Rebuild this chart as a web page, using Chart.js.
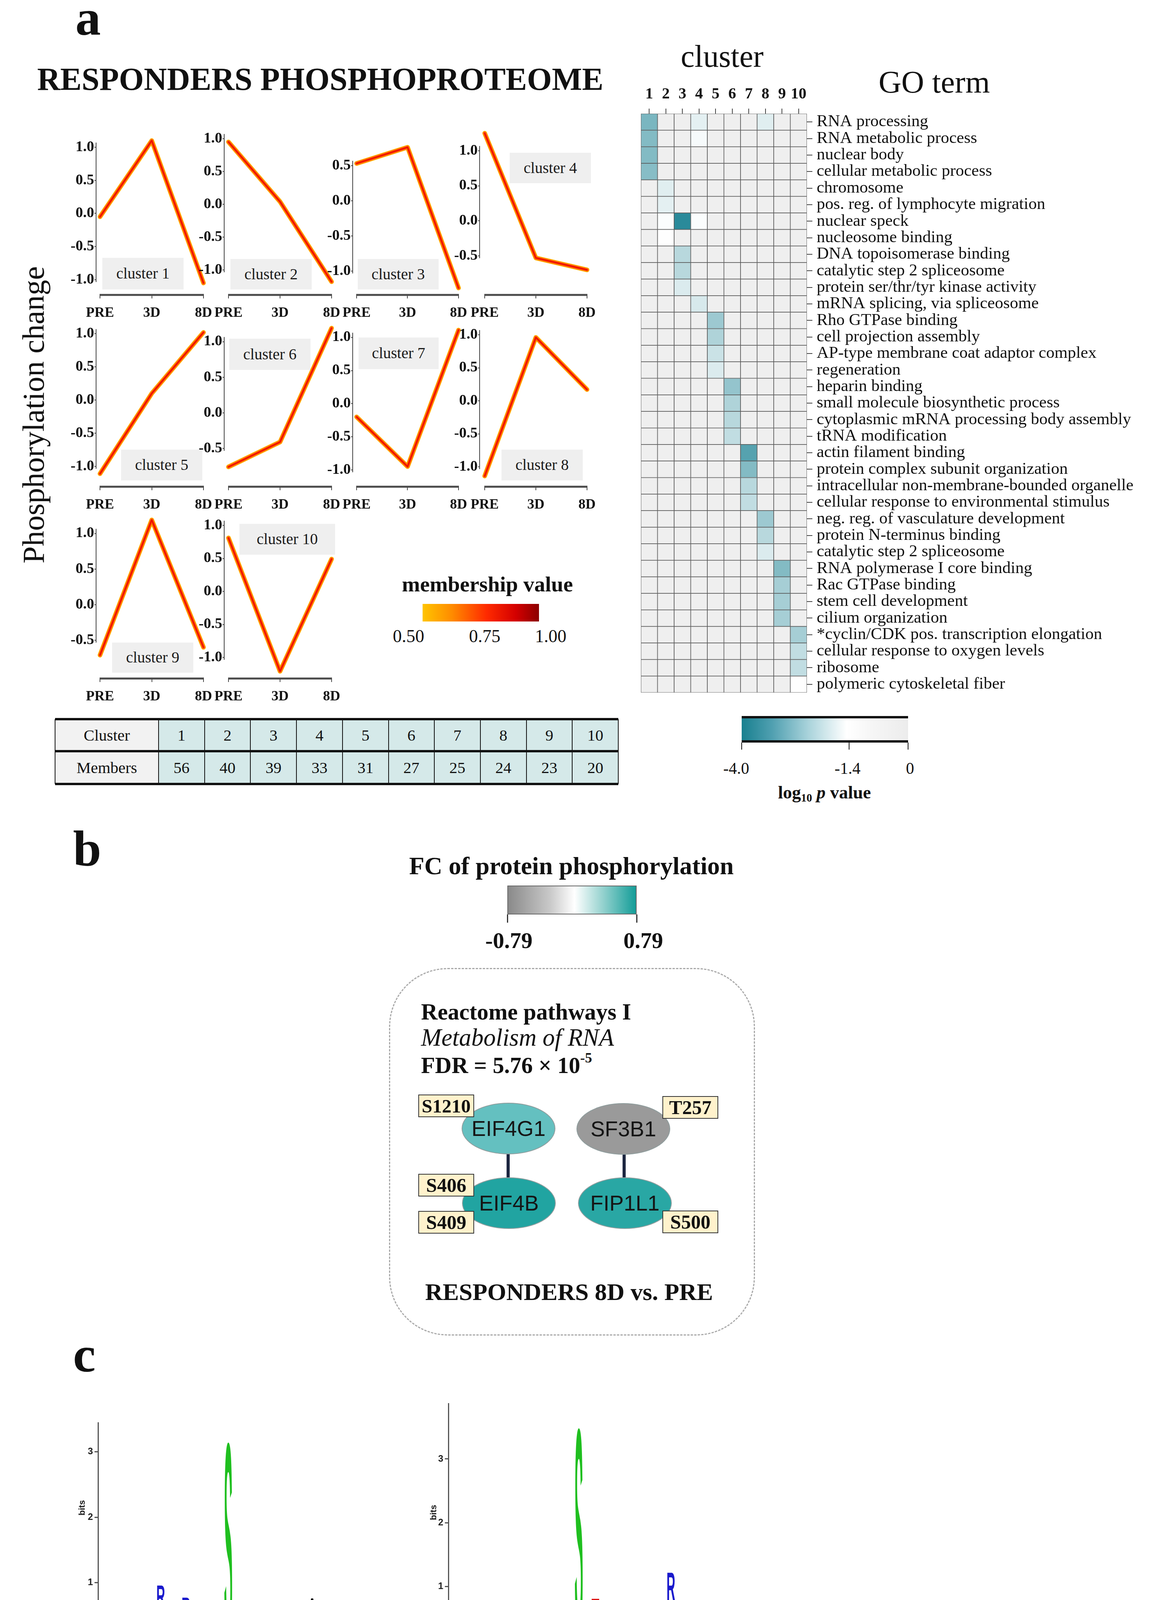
<!DOCTYPE html>
<html><head><meta charset="utf-8">
<script src="https://cdn.jsdelivr.net/npm/chart.js@4.4.1/dist/chart.umd.min.js"></script>
<style>
html,body{margin:0;padding:0;background:#fff;}
#root{position:relative;width:2947px;height:4521px;overflow:hidden;background:#fff;color:#111;font-family:"Liberation Serif",serif;}
.t{position:absolute;white-space:nowrap;}
canvas.ch{position:absolute;}
.box{position:absolute;}
</style></head><body><div id="root"></div>
<script>
// ================= DATA =================
const timepoints = ['PRE', '3D', '8D'];
const profile1 = [-0.05, 1.10, -1.05];
const profile2 = [0.95, 0.04, -1.18];
const profile3 = [0.53, 0.76, -1.24];
const profile4 = [1.25, -0.53, -0.70];
const profile5 = [-1.11, 0.10, 1.02];
const profile6 = [-0.76, -0.41, 1.19];
const profile7 = [-0.20, -0.95, 1.11];
const profile8 = [-1.14, 0.96, 0.17];
const profile9 = [-0.71, 1.19, -0.60];
const profile10 = [0.81, -1.21, 0.49];
const ticksFull = [-1, -0.5, 0, 0.5, 1];
const ticksLow = [-1, -0.5, 0, 0.5];
const ticksHigh = [-0.5, 0, 0.5, 1];
const clusterIds = [1, 2, 3, 4, 5, 6, 7, 8, 9, 10];
const clusterMembers = [56, 40, 39, 33, 31, 27, 25, 24, 23, 20];
const membershipTicks = ['0.50', '0.75', '1.00'];

const goTerms = ['RNA processing','RNA metabolic process','nuclear body','cellular metabolic process','chromosome',
 'pos. reg. of lymphocyte migration','nuclear speck','nucleosome binding','DNA topoisomerase binding','catalytic step 2 spliceosome',
 'protein ser/thr/tyr kinase activity','mRNA splicing, via spliceosome','Rho GTPase binding','cell projection assembly',
 'AP-type membrane coat adaptor complex','regeneration','heparin binding','small molecule biosynthetic process',
 'cytoplasmic mRNA processing body assembly','tRNA modification','actin filament binding','protein complex subunit organization',
 'intracellular non-membrane-bounded organelle','cellular response to environmental stimulus','neg. reg. of vasculature development',
 'protein N-terminus binding','catalytic step 2 spliceosome','RNA polymerase I core binding','Rac GTPase binding','stem cell development',
 'cilium organization','*cyclin/CDK pos. transcription elongation','cellular response to oxygen levels','ribosome','polymeric cytoskeletal fiber'];
// [GO term row, cluster, log10 p]; every other cell is 0
const heatCells = [[0,1,-2.9],[0,4,-1.7],[0,8,-1.75],[1,1,-2.8],[1,4,-1.5],[2,1,-2.8],[3,1,-2.75],[4,2,-1.75],[5,2,-1.7],
 [6,2,-1.45],[6,3,-3.8],[6,4,-1.45],[7,2,-1.35],[8,3,-2.2],[9,3,-2.2],[10,3,-1.8],[11,4,-1.85],[12,5,-2.5],[13,5,-2.3],
 [14,5,-2.0],[15,5,-1.8],[16,6,-2.6],[17,6,-2.3],[18,6,-2.2],[19,6,-2.1],[20,7,-3.3],[21,7,-2.8],[22,7,-2.2],[23,7,-2.1],
 [24,8,-2.5],[25,8,-2.2],[26,8,-1.8],[27,9,-2.8],[28,9,-2.4],[29,9,-2.4],[30,9,-2.4],[31,10,-2.4],[32,10,-2.1],[33,10,-2.1],[34,10,-1.35]];
const pvalTicks = ['-4.0', '-1.4', '0'];
const fcTicks = ['-0.79', '0.79'];

const logoPositions = Array.from({length: 31}, (_, i) => String(i + 1));
const logoBitsTicks = [0, 1, 2, 3];
// letters bottom -> top, [residue, bits]
const logo3D = [
 [['Q',0.03],['A',0.03],['G',0.03],['E',0.04]],
 [['A',0.05],['Q',0.04],['L',0.04],['K',0.04],['E',0.09],['S',0.14],['R',0.14]],
 [['L',0.05],['I',0.05],['S',0.12],['R',0.125],['D',0.125],['Q',0.24]],
 [],
 [['A',0.02],['N',0.02],['K',0.03],['R',0.03],['T',0.03]],
 [['K',0.03],['N',0.03]],
 [['V',0.05],['K',0.05],['G',0.05],['D',0.04],['R',0.09],['A',0.10],['S',0.19]],
 [['K',0.08],['S',0.17],['E',0.17],['P',0.21],['R',0.33]],
 [['T',0.05],['S',0.06],['R',0.05],['C',0.05],['Q',0.06],['G',0.08]],
 [['T',0.05],['N',0.05],['E',0.03],['K',0.05],['A',0.06],['L',0.07]],
 [['T',0.05],['E',0.07],['S',0.12],['K',0.13],['D',0.15],['R',0.25]],
 [['N',0.025],['Q',0.025]],
 [['G',0.05],['I',0.05],['R',0.08],['L',0.07],['A',0.10],['S',0.12]],
 [['C',0.04],['N',0.04],['Q',0.04],['K',0.07],['E',0.04],['R',0.09]],
 [['R',0.06],['N',0.05],['C',0.09],['Y',0.09],['G',0.10],['K',0.19]],
 [['S',3.15]],
 [['Y',0.04],['C',0.05],['K',0.04],['D',0.04],['E',0.04],['Q',0.06],['P',0.12]],
 [['T',0.04],['R',0.05],['L',0.05],['E',0.04],['S',0.09],['P',0.13],['G',0.12]],
 [],
 [['A',0.03],['Q',0.03],['S',0.03],['G',0.03],['E',0.03]],
 [],
 [['K',0.05],['G',0.05],['L',0.04],['D',0.04],['E',0.09],['S',0.13],['A',0.13]],
 [['V',0.05],['K',0.05],['C',0.05],['G',0.04],['E',0.04],['R',0.09]],
 [['S',0.04],['L',0.05],['D',0.05],['T',0.05],['Q',0.04],['E',0.09]],
 [['S',0.03],['Q',0.03],['K',0.04],['R',0.05]],
 [['L',0.06],['R',0.07],['H',0.07],['S',0.18],['E',0.18],['A',0.20]],
 [['D',0.03],['E',0.03]],
 [],
 [['V',0.05],['L',0.08],['K',0.04],['Q',0.09],['S',0.13],['E',0.14]],
 [['A',0.03],['C',0.03],['N',0.03],['R',0.03],['G',0.03]],
 [['I',0.05],['S',0.05],['G',0.04],['F',0.05],['E',0.05],['V',0.07]]
];
const logo8D = [
 [],
 [['V',0.03],['K',0.04],['E',0.04],['D',0.05],['S',0.06]],
 [['G',0.04],['S',0.04],['E',0.05]],
 [['I',0.04],['K',0.03],['T',0.04],['E',0.05],['D',0.05],['S',0.08],['A',0.09],['R',0.16],['P',0.14]],
 [['N',0.04],['C',0.05],['L',0.04],['Q',0.06],['K',0.06],['A',0.06],['S',0.08],['R',0.09]],
 [['G',0.04],['C',0.04],['L',0.04],['R',0.04],['E',0.05],['D',0.06],['S',0.05]],
 [['C',0.03],['T',0.04],['L',0.05],['G',0.04],['E',0.05],['R',0.06],['Q',0.07],['P',0.09],['A',0.11]],
 [['D',0.02],['N',0.05],['C',0.07],['Q',0.05],['E',0.06],['S',0.12],['R',0.14],['P',0.10]],
 [['K',0.04],['V',0.07],['P',0.06],['S',0.09],['G',0.09],['E',0.09],['A',0.09],['R',0.20]],
 [['T',0.04],['K',0.04],['S',0.05],['E',0.05],['P',0.08]],
 [['G',0.04],['N',0.04],['E',0.04],['K',0.05],['H',0.05],['P',0.06],['L',0.06],['A',0.07],['R',0.14]],
 [['L',0.04],['C',0.04],['K',0.03],['P',0.04],['G',0.05],['F',0.05],['E',0.07],['S',0.11],['R',0.13]],
 [['V',0.05],['T',0.05],['G',0.06],['S',0.05],['L',0.05],['E',0.05],['A',0.06],['K',0.08],['R',0.23]],
 [['N',0.04],['G',0.04],['C',0.07],['H',0.04],['K',0.08],['T',0.09],['P',0.09],['S',0.11]],
 [['Q',0.03],['C',0.04],['K',0.04],['L',0.05],['E',0.05],['P',0.05],['A',0.06],['R',0.12]],
 [['T',0.15],['S',3.34]],
 [['Y',0.04],['K',0.07],['N',0.03],['L',0.05],['D',0.05],['W',0.07],['E',0.04],['P',0.14]],
 [['C',0.09],['R',0.07],['T',0.10],['G',0.10],['D',0.10],['S',0.13],['E',0.21]],
 [['A',0.03],['N',0.04],['C',0.08],['R',0.09],['G',0.08],['E',0.13],['D',0.11],['S',0.13]],
 [['A',0.04],['N',0.03],['G',0.04],['E',0.04],['V',0.06]],
 [['C',0.07],['D',0.03],['S',0.05],['G',0.07],['Y',0.06],['K',0.05],['E',0.11]],
 [['C',0.05],['H',0.06],['R',0.07],['T',0.06],['G',0.06],['P',0.07],['E',0.09]],
 [['C',0.04],['E',0.03],['A',0.04],['K',0.03],['G',0.04]],
 [['V',0.04],['L',0.04],['H',0.04],['S',0.04],['E',0.04],['R',0.06]],
 [['V',0.04],['C',0.05],['K',0.07],['E',0.04],['G',0.09],['S',0.12],['R',0.11],['P',0.13]],
 [['C',0.06],['T',0.04],['K',0.04],['G',0.04],['R',0.04],['E',0.05],['D',0.06]],
 [['G',0.07],['L',0.15],['P',0.17],['E',0.19],['A',0.19],['R',0.44]],
 [['C',0.06],['Q',0.03],['E',0.05],['G',0.05],['S',0.05]],
 [['N',0.04],['C',0.06],['H',0.06],['S',0.04],['G',0.04],['P',0.07],['R',0.08]],
 [['L',0.04],['C',0.07],['G',0.04],['R',0.05],['Q',0.04],['E',0.05],['D',0.03]],
 [['I',0.03],['N',0.03],['L',0.04],['H',0.06],['E',0.04],['V',0.07],['S',0.05],['R',0.08],['G',0.08]]
];

// ================= LAYOUT / STYLE =================
const SERIF = '"Liberation Serif", serif', SANS = '"Liberation Sans", sans-serif';
Chart.defaults.font.family = SERIF;
Chart.defaults.color = '#111';
const root = document.getElementById('root');
const mctx = document.createElement('canvas').getContext('2d');
function fstr(style, weight, size, fam){ return style + ' ' + weight + ' ' + size + 'px ' + fam; }
function measure(s, font){ mctx.font = font; return mctx.measureText(s).width; }

function addText(html, o){
  const fam = o.fam || SERIF, style = o.style || 'normal', weight = o.weight || 'normal';
  let size = o.size || 40;
  if (o.fit) size = 100 * o.fit / measure(o.plain || html, fstr(style, weight, 100, fam));
  const d = document.createElement('div');
  d.className = 't';
  d.innerHTML = html;
  d.style.font = fstr(style, weight, size, fam);
  d.style.lineHeight = '1';
  if (o.color) d.style.color = o.color;
  const asc = fam === SANS ? 0.8465 : 0.8375;
  if (o.rotate){
    d.style.left = o.x + 'px'; d.style.top = o.y + 'px';
    d.style.transform = 'translate(-50%,-50%) rotate(-90deg)';
  } else {
    d.style.top = (o.y - asc * size) + 'px';
    d.style.left = o.x + 'px';
    if (o.align === 'c') d.style.transform = 'translateX(-50%)';
  }
  if (o.z) d.style.zIndex = o.z;
  root.appendChild(d);
  return size;
}
function addBox(x, y, w, h, css){
  const d = document.createElement('div'); d.className = 'box';
  d.style.left = x + 'px'; d.style.top = y + 'px'; d.style.width = w + 'px'; d.style.height = h + 'px';
  Object.assign(d.style, css || {});
  root.appendChild(d); return d;
}
function addCanvas(x, y, w, h){
  const c = document.createElement('canvas'); c.className = 'ch';
  c.width = Math.round(w); c.height = Math.round(h);
  c.style.left = x + 'px'; c.style.top = y + 'px';
  c.style.width = Math.round(w) + 'px'; c.style.height = Math.round(h) + 'px';
  root.appendChild(c); return c;
}

// ---------- panel labels & titles ----------
addText('a', {x: 193, y: 89, size: 130, weight: 'bold'});
addText('b', {x: 187, y: 2216, size: 130, weight: 'bold'});
addText('c', {x: 187, y: 3511, size: 130, weight: 'bold'});
addText('RESPONDERS PHOSPHOPROTEOME', {x: 820, y: 231, align: 'c', fit: 1450, weight: 'bold'});
addText('Phosphorylation change', {x: 86, y: 1062, rotate: true, fit: 761});

// ---------- cluster profile charts ----------
const profiles = [profile1, profile2, profile3, profile4, profile5, profile6, profile7, profile8, profile9, profile10];
const profileTicks = [ticksFull, ticksFull, ticksLow, ticksHigh, ticksFull, ticksHigh, ticksFull, ticksFull, ticksHigh, ticksFull];
const profileLayout = [
  {axX: 246, yZero: 546.5, unit: 169.5, x0: 256, x1: 521, xAxisY: 755, box: [262, 660, 208, 81]},
  {axX: 574, yZero: 523, unit: 168, x0: 585, x1: 849, xAxisY: 755, box: [590, 663, 208, 78]},
  {axX: 903, yZero: 514, unit: 180, x0: 913, x1: 1174, xAxisY: 755, box: [916, 663, 207, 78]},
  {axX: 1228, yZero: 565.3, unit: 179.3, x0: 1241, x1: 1503, xAxisY: 755, box: [1305, 391, 208, 78]},
  {axX: 246, yZero: 1024, unit: 170, x0: 256, x1: 521, xAxisY: 1246, box: [310, 1151, 208, 79]},
  {axX: 574, yZero: 1057, unit: 182, x0: 585, x1: 849, xAxisY: 1246, box: [587, 867, 208, 80]},
  {axX: 903, yZero: 1033.5, unit: 169.5, x0: 913, x1: 1174, xAxisY: 1246, box: [918, 864, 205, 81]},
  {axX: 1228, yZero: 1026, unit: 169, x0: 1241, x1: 1503, xAxisY: 1246, box: [1284, 1151, 208, 79]},
  {axX: 246, yZero: 1548, unit: 182, x0: 256, x1: 521, xAxisY: 1737, box: [287, 1645, 208, 77]},
  {axX: 574, yZero: 1514, unit: 169, x0: 585, x1: 849, xAxisY: 1737, box: [613, 1341, 245, 79]}
];
const profileAxes = {
  id: 'profileAxes',
  afterDraw(chart){
    const {ctx, chartArea, scales: {x, y}} = chart;
    ctx.save();
    ctx.strokeStyle = '#4a4a4a'; ctx.lineWidth = 5;
    ctx.beginPath(); ctx.moveTo(x.getPixelForValue(0) - 1, chartArea.bottom); ctx.lineTo(x.getPixelForValue(2) + 1, chartArea.bottom); ctx.stroke();
    const t = y.ticks;
    ctx.strokeStyle = '#444'; ctx.lineWidth = 2;
    ctx.beginPath(); ctx.moveTo(chartArea.left, y.getPixelForValue(t[t.length - 1].value) - 12); ctx.lineTo(chartArea.left, y.getPixelForValue(t[0].value) + 6); ctx.stroke();
    ctx.restore();
  }
};
function makeProfile(i){
  const L = profileLayout[i], vals = profiles[i], ticks = profileTicks[i];
  const b = L.box;
  addBox(b[0], b[1], b[2], b[3], {background: '#efefef'});
  addText('cluster ' + clusterIds[i], {x: b[0] + b[2] / 2, y: b[1] + b[3] / 2 + 13, align: 'c', size: 40, color: '#1a1a1a'});
  const step = (L.x1 - L.x0) / 2, YW = 84, XH = 80, PT = 24, PR = 14, PAD = 34;
  const maxV = Math.max(Math.max(...vals), ticks[ticks.length - 1]);
  const top = L.yZero - maxV * L.unit - 22;
  const cl = L.axX - YW, ct = top - PT;
  const cw = (L.x1 + PR + PAD) - cl, chh = L.xAxisY + XH - ct;
  const cv = addCanvas(cl, ct, cw, chh);
  cv.style.zIndex = 2;
  const ds = (w, c) => ({data: vals.map((v, k) => ({x: k, y: v})), borderColor: c, borderWidth: w, pointRadius: 0,
    fill: false, tension: 0, clip: false, borderJoinStyle: 'round', borderCapStyle: 'round'});
  // first dataset is drawn on top: red core, orange middle, yellow fringe
  new Chart(cv, {
    type: 'line',
    data: {datasets: [ds(3.5, '#ee1000'), ds(8, '#ff5a00'), ds(12, '#ffb000')]},
    options: {
      responsive: false, animation: false, devicePixelRatio: 1,
      layout: {padding: {left: 0, top: PT, right: PAD, bottom: 0}},
      plugins: {legend: {display: false}, tooltip: {enabled: false}},
      scales: {
        x: {type: 'linear', min: -(L.x0 - L.axX) / step, max: 2 + PR / step,
          afterBuildTicks: s => { s.ticks = [0, 1, 2].map(v => ({value: v})); },
          afterFit: s => { s.height = XH; },
          ticks: {callback: v => timepoints[v], font: {size: 36, weight: 'bold'}, color: '#111', padding: 16, maxRotation: 0, autoSkip: false},
          grid: {display: true, drawOnChartArea: false, drawTicks: true, tickLength: 9, color: '#4a4a4a', lineWidth: 2},
          border: {display: false}},
        y: {type: 'linear', min: (L.yZero - L.xAxisY) / L.unit, max: (L.yZero - top) / L.unit,
          afterBuildTicks: s => { s.ticks = ticks.map(v => ({value: v})); },
          afterFit: s => { s.width = YW; },
          ticks: {callback: v => Number(v).toFixed(1), font: {size: 38, weight: 'bold'}, color: '#111', padding: 1},
          grid: {display: true, drawOnChartArea: false, tickLength: 4, color: '#444', lineWidth: 2},
          border: {display: false}}
      }
    },
    plugins: [profileAxes]
  });
}
for (let i = 0; i < 10; i++) makeProfile(i);

// membership legend
addText('membership value', {x: 1248, y: 1515, align: 'c', fit: 438, weight: 'bold'});
addBox(1082, 1546, 298, 45, {background: 'linear-gradient(to right,#ffc400 0%,#ff8c00 25%,#ff2a00 55%,#d40000 80%,#8b0000 100%)'});
[1046, 1241, 1410].forEach((x, k) => addText(membershipTicks[k], {x: x, y: 1645, align: 'c', size: 46}));

// ---------- table ----------
(function(){
  const left = 141, top = 1841, rowH = [82, 84], firstW = 265, cellW = 117.7;
  const rowsText = [['Cluster'].concat(clusterIds.map(String)), ['Members'].concat(clusterMembers.map(String))];
  let y = top;
  for (let r = 0; r < 2; r++){
    for (let c = 0; c <= 10; c++){
      const x = c === 0 ? left : left + firstW + (c - 1) * cellW;
      const w = c === 0 ? firstW : cellW;
      addBox(x, y, w, rowH[r], {background: c === 0 ? '#f2f2f2' : '#d5e9e9'});
      addText(rowsText[r][c], {x: x + w / 2, y: y + rowH[r] / 2 + 14, align: 'c', size: 41});
    }
    y += rowH[r];
  }
  [top, top + rowH[0], top + rowH[0] + rowH[1]].forEach(yy => addBox(left, yy - 3, firstW + 10 * cellW, 6, {background: '#111'}));
  for (let c = 0; c <= 11; c++){
    const x = c === 0 ? left : left + firstW + (c - 1) * cellW;
    addBox(x - 1, top, 2, rowH[0] + rowH[1], {background: '#111'});
  }
})();

// ---------- GO heatmap ----------
function cellColor(v){
  const teal = [24, 128, 146], white = [255, 255, 255], gray = [239, 239, 239];
  let a, b2, f;
  if (v >= -1.4){ a = white; b2 = gray; f = (v + 1.4) / 1.4; }
  else { a = white; b2 = teal; f = Math.min(1, (-1.4 - v) / 2.6); }
  const c = a.map((q, k) => Math.round(q + (b2[k] - q) * f));
  return 'rgb(' + c.join(',') + ')';
}
(function(){
  const logP = goTerms.map(() => clusterIds.map(() => 0));
  heatCells.forEach(([r, c, v]) => { logP[r][c - 1] = v; });
  const cl = 1500, ct = 180, cw = 1447, chh = 1640;
  const areaL = 1641, areaT = 291, areaR = 2066, areaB = 1773;
  const cv = addCanvas(cl, ct, cw, chh);
  const datasets = clusterIds.map((c, ci) => ({
    data: goTerms.map(() => [c - 0.5, c + 0.5]),
    backgroundColor: goTerms.map((_, r) => cellColor(logP[r][ci])),
    borderColor: '#5a5a5a', borderWidth: 1.2, borderSkipped: false,
    barPercentage: 1, categoryPercentage: 1, grouped: false
  }));
  new Chart(cv, {
    type: 'bar',
    data: {labels: goTerms, datasets},
    options: {
      indexAxis: 'y', responsive: false, animation: false, devicePixelRatio: 1,
      layout: {padding: {left: areaL - cl, top: 0, right: 0, bottom: (ct + chh) - areaB}},
      plugins: {legend: {display: false}, tooltip: {enabled: false}},
      scales: {
        x: {type: 'linear', position: 'top', min: 0.5, max: 10.5,
          afterBuildTicks: s => { s.ticks = clusterIds.map(v => ({value: v})); },
          afterFit: s => { s.height = areaT - ct; },
          ticks: {callback: v => String(v), font: {size: 40, weight: 'bold'}, color: '#111', padding: 12, maxRotation: 0, autoSkip: false},
          grid: {display: true, drawOnChartArea: false, tickLength: 13, color: '#444', lineWidth: 2},
          border: {display: false}},
        y: {type: 'category', position: 'right', offset: true,
          afterFit: s => { s.width = (cl + cw) - areaR; },
          ticks: {font: {size: 43}, color: '#111', padding: 11, autoSkip: false},
          grid: {display: true, offset: false, drawOnChartArea: false, tickLength: 14, color: '#444', lineWidth: 2},
          border: {display: false}}
      }
    }
  });
})();
addText('cluster', {x: 1849, y: 172, align: 'c', fit: 212});
addText('GO term', {x: 2392, y: 238, align: 'c', fit: 285});
// p-value colour bar
addBox(1899, 1833, 426, 68, {background: 'linear-gradient(to right,#18808f 0%,#4f9fb0 18%,#a9d3db 40%,#ffffff 63%,#f6f6f6 78%,#ececec 100%)',
  borderTop: '6px solid #111', borderBottom: '6px solid #111', boxSizing: 'border-box'});
[1899, 2174, 2325].forEach((x, k) => {
  addBox(x - 1, 1901, 2, 18, {background: '#111'});
  addText(pvalTicks[k], {x: [1885, 2170, 2330][k], y: 1981, align: 'c', size: 42});
});
addText('log<span style="font-size:0.62em;position:relative;top:0.28em">10</span> <i>p</i> value', {x: 2111, y: 2045, align: 'c', size: 46, weight: 'bold'});

// ---------- panel b ----------
addText('FC of protein phosphorylation', {x: 1463, y: 2238, align: 'c', fit: 831, weight: 'bold'});
addBox(1299, 2267, 331, 74, {background: 'linear-gradient(to right,#8a8a8a 0%,#c9c9c9 33%,#ffffff 52%,#9fd6d3 72%,#139d98 100%)',
  border: '2px solid #666', boxSizing: 'border-box'});
addBox(1298, 2341, 2.5, 21, {background: '#333'});
addBox(1629, 2341, 2.5, 21, {background: '#333'});
addText(fcTicks[0], {x: 1303, y: 2428, align: 'c', size: 58, weight: 'bold'});
addText(fcTicks[1], {x: 1647, y: 2428, align: 'c', size: 58, weight: 'bold'});
addBox(996, 2478, 937, 941, {border: '3.5px dashed #a9a9a9', borderRadius: '150px', boxSizing: 'border-box'});
const rs = addText('Reactome pathways I', {x: 1078, y: 2611, fit: 538, weight: 'bold'});
addText('Metabolism of RNA', {x: 1078, y: 2677, fit: 494, style: 'italic'});
addText('FDR = 5.76 × 10<span style="font-size:0.62em;position:relative;top:-0.75em">-5</span>', {x: 1078, y: 2748, size: rs, weight: 'bold'});
// network
addBox(1301 - 4, 2950, 8, 70, {background: '#1c2640'});
addBox(1598 - 4, 2950, 8, 70, {background: '#1c2640'});
const nodes = [['EIF4G1', 1302, 2889, '#64c0c0'], ['SF3B1', 1596, 2890, '#9a9a9a'], ['EIF4B', 1303, 3080, '#21a4a1'], ['FIP1L1', 1600, 3080, '#29a7a4']];
nodes.forEach(([name, cx, cy, col]) => {
  addBox(cx - 120, cy - 66, 240, 132, {background: col, borderRadius: '50%', border: '2px solid #8f9d9d', boxSizing: 'border-box'});
  addText(name, {x: cx, y: cy + 20, align: 'c', size: 55, fam: SANS, color: '#151515'});
});
const sites = [['S1210', 1071, 2802], ['T257', 1696, 2806], ['S406', 1071, 3005], ['S409', 1071, 3100], ['S500', 1696, 3099]];
sites.forEach(([s, x, y]) => {
  const bx = addBox(x, y, 143, 58, {background: '#fff2cc', border: '2.5px solid #333', boxSizing: 'border-box'});
  bx.style.zIndex = 3;
  addText(s, {x: x + 71.5, y: y + 46, align: 'c', size: s.length > 4 ? 49 : 50, weight: 'bold', z: 4});
});
addText('RESPONDERS 8D vs. PRE', {x: 1457, y: 3328, align: 'c', fit: 737, weight: 'bold'});

// ---------- panel c: sequence logos ----------
const AA_COLOR = {G:'#1fbf1f',S:'#1fbf1f',T:'#1fbf1f',Y:'#1fbf1f',C:'#1fbf1f',Q:'#cc00cc',N:'#cc00cc',
  K:'#1a1acc',R:'#1a1acc',H:'#1a1acc',D:'#dd1111',E:'#dd1111'};
const logoLetters = {
  id: 'logoLetters',
  afterDatasetsDraw(chart){
    const ctx = chart.ctx;
    ctx.save();
    chart.data.datasets.forEach((ds, k) => {
      const meta = chart.getDatasetMeta(k);
      meta.data.forEach((el, i) => {
        const letter = ds.letters[i];
        if (!letter) return;
        const p = el.getProps(['x', 'y', 'base', 'width'], true);
        const h = Math.abs(p.base - p.y);
        if (h < 0.5) return;
        ctx.font = 'bold 100px ' + SANS;
        const m = ctx.measureText(letter);
        const gw = m.actualBoundingBoxLeft + m.actualBoundingBoxRight;
        const gh = m.actualBoundingBoxAscent + m.actualBoundingBoxDescent;
        ctx.save();
        ctx.globalAlpha = ds.data[i] < 0.045 ? 0.6 : 1;
        ctx.translate(p.x - p.width / 2, Math.max(p.base, p.y));
        ctx.scale(p.width / gw, h / gh);
        ctx.fillStyle = AA_COLOR[letter] || '#000';
        ctx.fillText(letter, m.actualBoundingBoxLeft, -m.actualBoundingBoxDescent);
        ctx.restore();
      });
    });
    ctx.restore();
  }
};
function makeLogo(stacks, L){
  const cv = addCanvas(L.cl, L.ct, L.cw, L.chh);
  const n = Math.max(...stacks.map(s => s.length));
  const datasets = [];
  for (let k = 0; k < n; k++){
    datasets.push({data: stacks.map(s => s[k] ? s[k][1] : 0), letters: stacks.map(s => s[k] ? s[k][0] : null),
      backgroundColor: 'rgba(0,0,0,0)', borderWidth: 0, barPercentage: 0.94, categoryPercentage: 1});
  }
  new Chart(cv, {
    type: 'bar',
    data: {labels: logoPositions, datasets},
    options: {
      responsive: false, animation: false, devicePixelRatio: 1,
      layout: {padding: {left: 0, top: L.areaT - L.ct, right: (L.cl + L.cw) - L.areaR, bottom: 0}},
      plugins: {legend: {display: false}, tooltip: {enabled: false}},
      scales: {
        x: {stacked: true, grid: {display: false}, border: {display: false},
          afterFit: s => { s.height = (L.ct + L.chh) - L.areaB; },
          ticks: {font: {family: SANS, size: 18, weight: 'bold'}, color: '#222', minRotation: 90, maxRotation: 90, padding: 3, autoSkip: false}},
        y: {stacked: true, min: 0, max: L.ymax,
          afterBuildTicks: s => { s.ticks = logoBitsTicks.map(v => ({value: v})); },
          afterFit: s => { s.width = L.areaL - L.cl; },
          ticks: {font: {family: SANS, size: 24, weight: 'bold'}, color: '#222', padding: 4, callback: v => String(v)},
          grid: {display: true, drawOnChartArea: false, tickLength: 9, color: '#555', lineWidth: 3},
          border: {display: true, color: '#555', width: 3}}
      }
    },
    plugins: [logoLetters]
  });
}
makeLogo(logo3D, {cl: 150, ct: 3620, cw: 800, chh: 680, areaL: 251, areaR: 917.5, areaT: 3642, areaB: 4219, ymax: (4219 - 3642) / 167.4});
makeLogo(logo8D, {cl: 1050, ct: 3570, cw: 800, chh: 730, areaL: 1148, areaR: 1815.5, areaT: 3593, areaB: 4224, ymax: (4224 - 3593) / 163});
addText('bits', {x: 210, y: 3860, rotate: true, size: 22, weight: 'bold', fam: SANS});
addText('bits', {x: 1110, y: 3872, rotate: true, size: 22, weight: 'bold', fam: SANS});
addText('N', {x: 232, y: 4256, align: 'c', size: 24, weight: 'bold', fam: SANS});
addText('C', {x: 929, y: 4256, align: 'c', size: 24, weight: 'bold', fam: SANS});
addText('N', {x: 1132, y: 4258, align: 'c', size: 24, weight: 'bold', fam: SANS});
addText('C', {x: 1826, y: 4258, align: 'c', size: 24, weight: 'bold', fam: SANS});
const capL = addText('RESPONDERS 3D vs. PRE', {x: 567, y: 4349, align: 'c', fit: 676, weight: 'bold'});
addText('(lower phosphorylation FC', {x: 568, y: 4414, align: 'c', size: capL, weight: 'bold'});
addText('at 3D)', {x: 574, y: 4476, align: 'c', size: capL, weight: 'bold'});
const capR = addText('RESPONDERS 8D vs. PRE', {x: 1486, y: 4346, align: 'c', fit: 676, weight: 'bold'});
addText('(higher phosphorylation FC', {x: 1482, y: 4411, align: 'c', size: capR, weight: 'bold'});
addText('at 8D)', {x: 1486, y: 4472, align: 'c', size: capR, weight: 'bold'});
</script></body></html>
